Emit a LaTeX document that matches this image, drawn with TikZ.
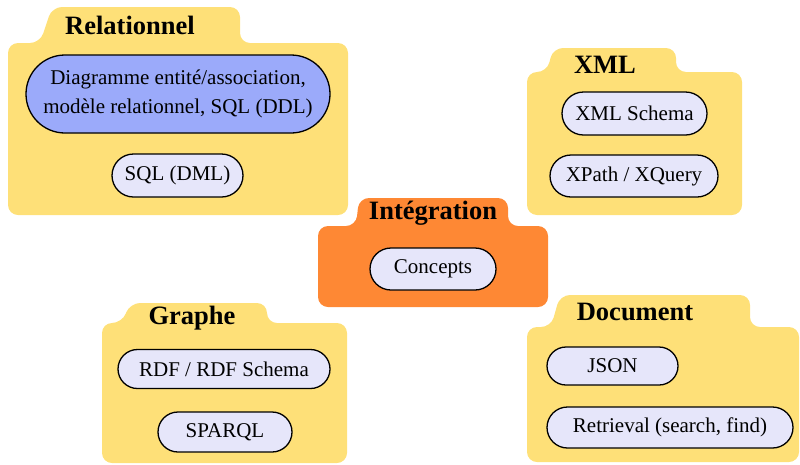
\documentclass[tikz,border=0pt]{standalone}
\usepackage{fontspec}
\setmainfont{Liberation Serif}
\usetikzlibrary{shapes.misc}
\definecolor{folderyellow}{RGB}{254,224,120}
\definecolor{folderorange}{RGB}{254,136,52}
\definecolor{entityblue}{RGB}{155,170,250}
\definecolor{topiclavender}{RGB}{230,230,250}
\tikzset{
    title/.style={font=\fontsize{26.5}{30}\selectfont\bfseries, inner sep=0pt},
    topic/.style={rounded rectangle, draw=black, line width=1.3pt, fill=topiclavender,
        font=\fontsize{21}{29}\selectfont, inner sep=0pt, minimum height=42}
}

\begin{document}
\begin{tikzpicture}[x=1pt, y=-1pt]
    % Definitions
    \useasboundingbox (0,0) rectangle (800,464);
    %%%
    %%% Folders
    %%%
    % body left/top/right/bottom, tab slant bottom/top, tab right, tab top, colour
    \foreach \xa/\ya/\xb/\yb/\ta/\tb/\tc/\tt/\col in {
        8/43/348/215/40/52/240/7/folderyellow,
        318/226/548/307/356/359/508/198/folderorange,
        527/72/742/215/547/553/676/48/folderyellow,
        102/323/347/463/122/130/267/303/folderyellow,
        527/327/799/462/551/560/750/295/folderyellow}
    {
        \fill[\col, rounded corners=10pt] (\xa,\yb) -- (\xa,\ya) -- (\ta,\ya) -- (\tb,\tt)
            -- (\tc,\tt) -- (\tc,\ya) -- (\xb,\ya) -- (\xb,\yb) -- cycle;
    }
    % Relationnel
    \node[title] (relTitle) at (130,25) {Relationnel};
    \node[topic, fill=entityblue, minimum width=304, minimum height=78, align=center] (erd) at (178,94)
        {Diagramme entité/association,\\modèle relationnel, SQL (DDL)};
    \node[topic, minimum width=131, minimum height=43] (sqlDml) at (177.5,175.5) {SQL (DML)};
    % Intégration
    \node[title] (integTitle) at (433,213) {Intégration};
    \node[topic, minimum width=126] (concepts) at (433,269) {Concepts};
    % XML
    \node[title] (xmlTitle) at (605,65) {XML};
    \node[topic, minimum width=145, minimum height=43] (xmlSchema) at (634.5,113.5) {XML Schema};
    \node[topic, minimum width=168] (xpath) at (634,176) {XPath / XQuery};
    % Graphe
    \node[title] (graphTitle) at (192,318) {Graphe};
    \node[topic, minimum width=212, minimum height=39] (rdf) at (224,369) {RDF / RDF Schema};
    \node[topic, minimum width=134, minimum height=40] (sparql) at (225,432) {SPARQL};
    % Document
    \node[title] (docTitle) at (635,312) {Document};
    \node[topic, minimum width=131, minimum height=38] (json) at (612.5,366) {JSON};
    \node[topic, minimum width=246, minimum height=41] (retrieval) at (670,427.5) {Retrieval (search, find)};
\end{tikzpicture}
\end{document}
